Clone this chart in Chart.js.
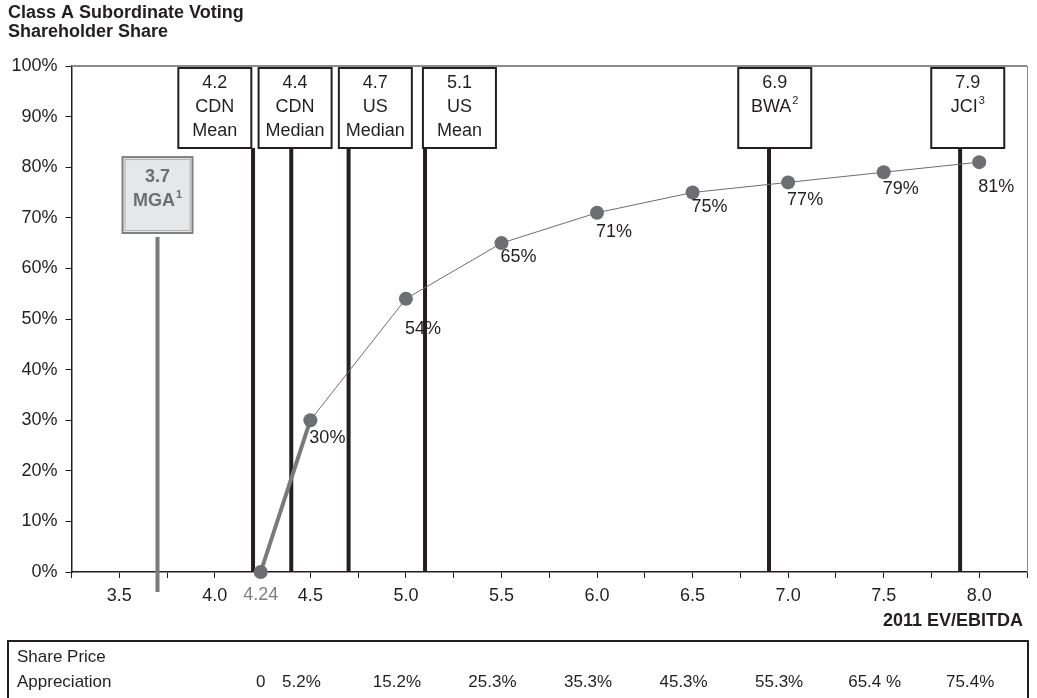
<!DOCTYPE html>
<html>
<head>
<meta charset="utf-8">
<script src="https://cdn.jsdelivr.net/npm/chart.js@4/dist/chart.umd.min.js"></script>
<style>
  html, body { margin: 0; padding: 0; background: #fff; }
  #wrap { width: 1037px; height: 698px; position: relative; }
</style>
</head>
<body>
<div id="wrap"><canvas id="c" width="1037" height="698"></canvas></div>
<script>
// 2011 EV/EBITDA multiple and the resulting Class A share of the vote
const EV_MULTIPLE = [4.24, 4.5, 5.0, 5.5, 6.0, 6.5, 7.0, 7.5, 8.0];
const SUB_VOTING_SHARE = [0, 30, 54, 65, 71, 75, 77, 79, 81];
const SHARE_LABELS = ['', '30%', '54%', '65%', '71%', '75%', '77%', '79%', '81%'];
const PRICE_APPRECIATION = ['0', '5.2%', '15.2%', '25.3%', '35.3%', '45.3%', '55.3%', '65.4 %', '75.4%'];

// Peer multiples shown as reference lines
const PEER_MULTIPLES = [4.2, 4.4, 4.7, 5.1, 6.9, 7.9];
const PEER_LINE1 = ['CDN', 'CDN', 'US', 'US', 'BWA', 'JCI'];
const PEER_LINE2 = ['Mean', 'Median', 'Median', 'Mean', '', ''];
const PEER_NOTES = ['', '', '', '', '2', '3'];
const MGA_MULTIPLE = 3.7;

const FONT = "'Liberation Sans', Arial, Helvetica, sans-serif";
const INK = '#231f20';
const GREY = '#6d6e71';

const overlay = {
  id: 'overlay',
  beforeDatasetsDraw(chart, args, opts) {
    const { ctx, chartArea: a, scales: { x, y } } = chart;
    ctx.save();
    // frame: top and right edges
    ctx.strokeStyle = '#8a8a8a';
    ctx.lineWidth = 2;
    ctx.beginPath(); ctx.moveTo(a.left, a.top); ctx.lineTo(a.right, a.top); ctx.stroke();
    ctx.lineWidth = 1;
    ctx.beginPath(); ctx.moveTo(a.right + 0.5, a.top); ctx.lineTo(a.right + 0.5, a.bottom); ctx.stroke();

    const boxTop = a.top + 2, boxH = 80, boxW = 73;
    // peer reference lines
    ctx.strokeStyle = INK;
    ctx.lineWidth = 4;
    PEER_MULTIPLES.forEach(v => {
      const px = x.getPixelForValue(v);
      ctx.beginPath(); ctx.moveTo(px, boxTop + boxH); ctx.lineTo(px, a.bottom); ctx.stroke();
    });

    // peer label boxes
    PEER_MULTIPLES.forEach((v, i) => {
      const cx = x.getPixelForValue(opts.boxAnchors[i]);
      const left = cx - boxW / 2;
      ctx.fillStyle = '#fff';
      ctx.fillRect(left, boxTop, boxW, boxH);
      ctx.strokeStyle = INK;
      ctx.lineWidth = 2;
      ctx.strokeRect(left, boxTop, boxW, boxH);
      ctx.fillStyle = INK;
      ctx.textAlign = 'center';
      ctx.textBaseline = 'middle';
      ctx.font = '18px ' + FONT;
      ctx.fillText(v.toFixed(1), cx, boxTop + 15);
      drawWithNote(ctx, PEER_LINE1[i], PEER_NOTES[i], cx, boxTop + 39, '18px ' + FONT, '11px ' + FONT);
      if (PEER_LINE2[i]) ctx.fillText(PEER_LINE2[i], cx, boxTop + 63);
    });

    // MGA marker: grey line running below the axis and its shaded box
    const mx = x.getPixelForValue(MGA_MULTIPLE);
    const mTop = y.getPixelForValue(opts.mgaBoxTop);
    const mBottom = y.getPixelForValue(opts.mgaBoxBottom);
    ctx.strokeStyle = '#7a7a7c';
    ctx.lineWidth = 4;
    ctx.beginPath(); ctx.moveTo(mx, mBottom + 4); ctx.lineTo(mx, a.bottom + 20); ctx.stroke();
    const mW = 70;
    ctx.fillStyle = '#e6e7e8';
    ctx.fillRect(mx - mW / 2, mTop, mW, mBottom - mTop);
    ctx.strokeStyle = '#808080';
    ctx.lineWidth = 2;
    ctx.strokeRect(mx - mW / 2, mTop, mW, mBottom - mTop);
    ctx.strokeStyle = '#b0b0b0';
    ctx.lineWidth = 1;
    ctx.strokeRect(mx - mW / 2 + 2.5, mTop + 2.5, mW - 5, mBottom - mTop - 5);
    ctx.fillStyle = GREY;
    ctx.textAlign = 'center';
    ctx.textBaseline = 'middle';
    ctx.font = 'bold 18px ' + FONT;
    ctx.fillText(MGA_MULTIPLE.toFixed(1), mx, mTop + 20);
    drawWithNote(ctx, 'MGA', '1', mx, mTop + 44, 'bold 18px ' + FONT, 'bold 11px ' + FONT);
    ctx.restore();
  },
  afterDatasetsDraw(chart, args, opts) {
    const { ctx, scales: { x, y } } = chart;
    ctx.save();
    ctx.fillStyle = INK;
    ctx.font = '18px ' + FONT;
    ctx.textAlign = 'center';
    ctx.textBaseline = 'middle';
    EV_MULTIPLE.forEach((v, i) => {
      if (!SHARE_LABELS[i]) return;
      const px = x.getPixelForValue(v) + opts.labelDx;
      const py = y.getPixelForValue(SUB_VOTING_SHARE[i]) + opts.labelDy[i];
      ctx.fillText(SHARE_LABELS[i], px, py);
    });
    ctx.restore();
  },
  afterDraw(chart, args, opts) {
    const { ctx, chartArea: a, scales: { x } } = chart;
    ctx.save();
    ctx.textBaseline = 'middle';
    // y-axis heading
    ctx.fillStyle = INK;
    ctx.textAlign = 'left';
    ctx.font = 'bold 18px ' + FONT;
    ctx.fillText('Class A Subordinate Voting', 8, 13);
    ctx.fillText('Shareholder Share', 8, 32);
    // x-axis heading
    ctx.textAlign = 'right';
    ctx.font = 'bold 18px ' + FONT;
    ctx.fillText('2011 EV/EBITDA', a.right - 4, a.bottom + 49);
    // starting multiple on the axis
    ctx.textAlign = 'center';
    ctx.fillStyle = '#808080';
    ctx.font = '18px ' + FONT;
    ctx.fillText(EV_MULTIPLE[0].toFixed(2), x.getPixelForValue(EV_MULTIPLE[0]), a.bottom + 23);

    // share price appreciation row
    ctx.strokeStyle = INK;
    ctx.lineWidth = 2;
    ctx.strokeRect(8, 641, 1020, 62);
    ctx.fillStyle = INK;
    ctx.font = '17px ' + FONT;
    ctx.textAlign = 'left';
    ctx.fillText('Share Price', 17, 657);
    ctx.fillText('Appreciation', 17, 682);
    ctx.textAlign = 'center';
    EV_MULTIPLE.forEach((v, i) => {
      const shift = i === 0 ? 0 : opts.tableDx;
      ctx.fillText(PRICE_APPRECIATION[i], x.getPixelForValue(v) + shift, 682);
    });
    ctx.restore();
  }
};

// text with a small raised footnote mark, centred as a whole
function drawWithNote(ctx, text, note, cx, cy, font, noteFont) {
  ctx.save();
  ctx.font = font;
  const w = ctx.measureText(text).width;
  ctx.font = noteFont;
  const nw = note ? ctx.measureText(note).width + 1 : 0;
  const left = cx - (w + nw) / 2;
  ctx.textAlign = 'left';
  ctx.font = font;
  ctx.fillText(text, left, cy);
  if (note) {
    ctx.font = noteFont;
    ctx.fillText(note, left + w + 1, cy - 6);
  }
  ctx.restore();
}

new Chart(document.getElementById('c'), {
  type: 'scatter',
  data: {
    datasets: [{
      data: EV_MULTIPLE.map((v, i) => ({ x: v, y: SUB_VOTING_SHARE[i] })),
      showLine: true,
      borderColor: GREY,
      borderWidth: 1,
      segment: {
        borderWidth: c => c.p0DataIndex === 0 ? 4 : 1,
        borderColor: c => c.p0DataIndex === 0 ? '#7a7a7c' : '#6d6e71'
      },
      pointRadius: 7,
      pointHoverRadius: 7,
      pointBackgroundColor: GREY,
      pointBorderColor: GREY,
      pointBorderWidth: 0,
      clip: false
    }]
  },
  options: {
    responsive: false,
    animation: false,
    events: [],
    layout: { padding: { top: 66, right: 10, left: 0, bottom: 0 } },
    plugins: {
      legend: { display: false },
      tooltip: { enabled: false },
      overlay: {
        boxAnchors: [4.0, 4.42, 4.84, 5.28, 6.93, 7.94],
        mgaBoxTop: 82,
        mgaBoxBottom: 67,
        labelDx: 17,
        labelDy: [0, 18, 30, 14, 19, 15, 18, 17, 25],
        tableDx: -9
      }
    },
    scales: {
      x: {
        type: 'linear',
        min: 3.25,
        max: 8.25,
        afterFit: s => { s.height = 126; },
        afterBuildTicks: s => {
          s.ticks = [];
          for (let v = 3.25; v <= 8.2501; v += 0.25) s.ticks.push({ value: Math.round(v * 100) / 100 });
        },
        ticks: {
          autoSkip: false,
          maxRotation: 0,
          padding: 7,
          color: INK,
          font: { family: FONT, size: 18 },
          callback: v => (Math.abs(v * 2 - Math.round(v * 2)) < 1e-6 ? Number(v).toFixed(1) : '')
        },
        grid: { drawOnChartArea: false, drawTicks: true, tickLength: 6, color: INK, lineWidth: 1 },
        border: { display: true, color: INK, width: 1.5 }
      },
      y: {
        min: 0,
        max: 100,
        afterFit: s => { s.width = 71.5; },
        ticks: {
          stepSize: 10,
          padding: 8,
          color: INK,
          font: { family: FONT, size: 18 },
          callback: v => v + '%'
        },
        grid: { drawOnChartArea: false, drawTicks: true, tickLength: 6, color: INK, lineWidth: 1 },
        border: { display: true, color: INK, width: 1.5 }
      }
    }
  },
  plugins: [overlay]
});
</script>
</body>
</html>
